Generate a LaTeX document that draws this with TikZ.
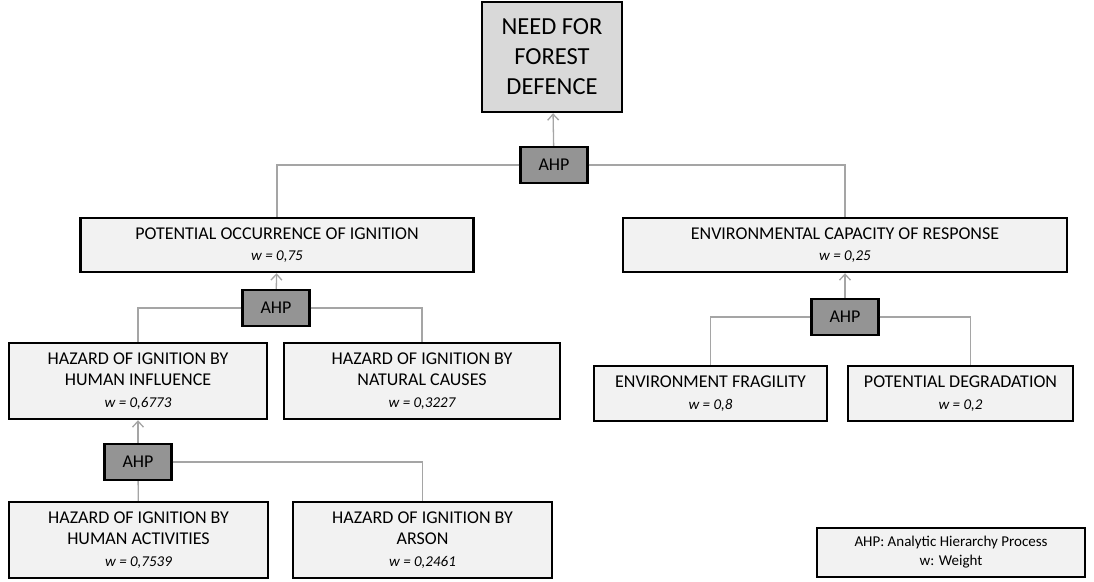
\documentclass[tikz,border=0pt]{standalone}
\usepackage{fontspec}
\setmainfont{Carlito}
\usepackage{tikz}
\usetikzlibrary{arrows.meta,positioning}
\definecolor{goalgray}{RGB}{217,217,217}
\definecolor{critgray}{RGB}{242,242,242}
\definecolor{ahpgray}{RGB}{148,148,148}
\definecolor{linkgray}{RGB}{165,165,165}
\tikzset{
  critbox/.style={draw=black, line width=2.4pt, fill=critgray, inner sep=0pt, align=center,
    font=\fontsize{18}{21.5}\selectfont},
  goalbox/.style={critbox, fill=goalgray, font=\fontsize{24.5}{30}\selectfont},
  ahpbox/.style={draw=black, line width=2.4pt, fill=ahpgray, inner sep=0pt,
    minimum width=67pt, minimum height=36pt, font=\fontsize{18}{20}\selectfont},
  legendbox/.style={critbox, line width=2pt, font=\fontsize{15}{19}\selectfont},
  link/.style={draw=linkgray, line width=1.3pt},
  uplink/.style={link, -{Straight Barb[length=6pt,width=11pt,line width=1.3pt]}}
}
\newcommand{\wt}[1]{{\fontsize{15}{19}\selectfont\itshape w = #1}}
\begin{document}
\begin{tikzpicture}[x=1pt,y=-1pt]
\useasboundingbox (0,0) rectangle (1094,581);

\node[goalbox, minimum width=140pt, minimum height=110pt] (goal) at (552,57) {NEED FOR\\FOREST\\DEFENCE};
\node[ahpbox] (ahpa) at (554,165) {AHP};

\node[critbox, minimum width=393pt, minimum height=54pt] (occur) at (277,245) {POTENTIAL OCCURRENCE OF IGNITION\\\wt{0,75}};
\node[critbox, minimum width=444pt, minimum height=54pt] (capacity) at (845,245) {ENVIRONMENTAL CAPACITY OF RESPONSE\\\wt{0,25}};

\node[ahpbox] (ahpb) at (276,308) {AHP};
\node[critbox, minimum width=258pt, minimum height=76pt] (human) at (138,381) {HAZARD OF IGNITION BY\\HUMAN INFLUENCE\\\wt{0,6773}};
\node[critbox, minimum width=276pt, minimum height=76pt] (natural) at (422,381) {HAZARD OF IGNITION BY\\NATURAL CAUSES\\\wt{0,3227}};

\node[ahpbox] (ahpd) at (138,462) {AHP};
\node[critbox, minimum width=259pt, minimum height=76pt] (activities) at (138.5,540) {HAZARD OF IGNITION BY\\HUMAN ACTIVITIES\\\wt{0,7539}};
\node[critbox, minimum width=259pt, minimum height=76pt] (arson) at (422.5,540) {HAZARD OF IGNITION BY\\ARSON\\\wt{0,2461}};

\node[ahpbox] (ahpc) at (845,317) {AHP};
\node[critbox, minimum width=233pt, minimum height=55pt] (fragility) at (710.5,393.5) {ENVIRONMENT FRAGILITY\\\wt{0,8}};
\node[critbox, minimum width=225pt, minimum height=55pt] (degradation) at (960.5,393.5) {POTENTIAL DEGRADATION\\\wt{0,2}};

\node[legendbox, minimum width=268pt, minimum height=49pt] (legend) at (951,552) {AHP: Analytic Hierarchy Process\\w: Weight};

\draw[uplink] (ahpa) -- (goal);
\draw[link] (ahpa) -| (occur);
\draw[link] (ahpa) -| (capacity);

\draw[uplink] (ahpb) -- (occur);
\draw[link] (ahpb) -| (human);
\draw[link] (ahpb) -| (natural);

\draw[uplink] (ahpd) -- (human);
\draw[link] (ahpd) -- (activities);
\draw[link] (ahpd) -| (arson);

\draw[uplink] (ahpc) -- (capacity);
\draw[link] (ahpc) -| (fragility);
\draw[link] (ahpc) -| ([xshift=10pt]degradation.north);
\end{tikzpicture}
\end{document}
